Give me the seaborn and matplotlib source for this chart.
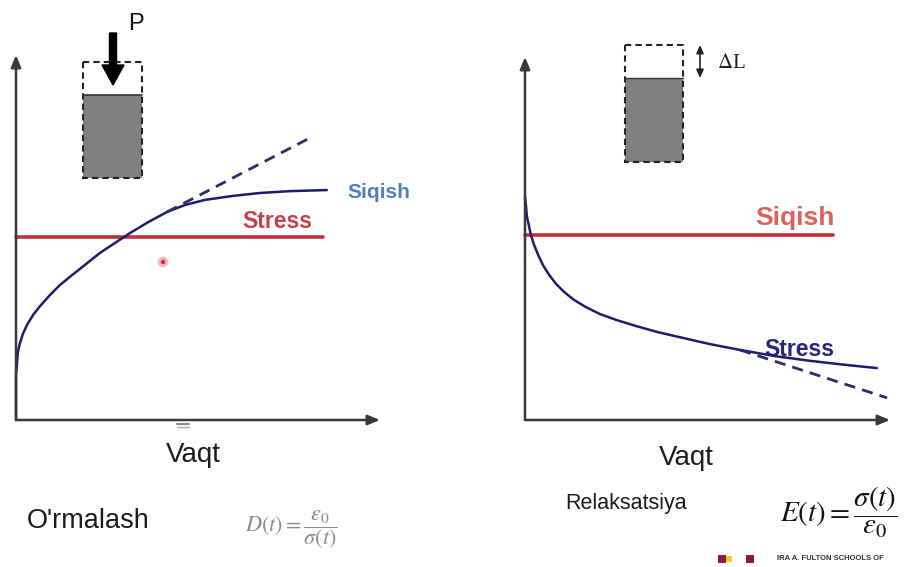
import seaborn as sns
import matplotlib.pyplot as plt
from matplotlib.patches import Rectangle, FancyArrow

# creep panel (O'rmalash): strain at constant stress
creep_t = [0, 0, 0, 0.03, 0.05, 0.11, 0.19, 0.30, 0.47, 0.66, 0.93, 1.21, 1.54, 1.92,
           2.31, 2.72, 3.13, 3.63, 4.15, 4.64, 5.19, 5.96, 6.70, 7.53, 8.54]
creep_strain = [0, 0.68, 1.23, 1.59, 1.86, 2.11, 2.36, 2.60, 2.88, 3.12, 3.42, 3.70, 3.97, 4.27,
                4.58, 4.85, 5.12, 5.42, 5.70, 5.89, 6.03, 6.14, 6.22, 6.27, 6.30]
creep_lin_t = [4.15, 8.08]
creep_lin = [5.70, 7.73]
creep_stress_t = [0, 8.43]
creep_stress = [5.01, 5.01]

# relaxation panel (Relaksatsiya): stress at constant strain
relax_t = [0, 0.03, 0.05, 0.11, 0.16, 0.25, 0.36, 0.49, 0.66, 0.85, 1.07, 1.34, 1.67, 2.05,
           2.52, 3.04, 3.64, 4.33, 5.07, 5.89, 6.85, 7.81, 8.77, 9.64]
relax_stress = [6.14, 5.87, 5.62, 5.34, 5.10, 4.82, 4.55, 4.27, 4.00, 3.75, 3.53, 3.31, 3.11, 2.92,
                2.75, 2.59, 2.42, 2.26, 2.09, 1.93, 1.76, 1.63, 1.52, 1.43]
relax_lin_t = [5.89, 9.92]
relax_lin = [1.93, 0.61]
relax_strain_t = [0, 8.44]
relax_strain = [5.10, 5.10]

sns.set_theme(style='white')
plt.rcParams['font.family'] = ['Liberation Sans', 'DejaVu Sans']
plt.rcParams['mathtext.fontset'] = 'stix'

W, H = 909, 567
fig = plt.figure(figsize=(W / 100, H / 100), dpi=100)
fig.patch.set_facecolor('white')

# background axis in pixel units for the sketches and captions
bg = fig.add_axes([0, 0, 1, 1])
bg.set_xlim(0, W)
bg.set_ylim(H, 0)
bg.axis('off')

AX_COL = '#3a3a3a'


def make_panel(left, top, right, bottom):
    ax = fig.add_axes([left / W, (H - bottom) / H, (right - left) / W, (bottom - top) / H])
    ax.set_xlim(0, 10)
    ax.set_ylim(0, 10)
    ax.patch.set_alpha(0)
    for s in ax.spines.values():
        s.set_visible(False)
    ax.set_xticks([])
    ax.set_yticks([])
    ax.set_xlabel('')
    ax.set_ylabel('')
    arrow = dict(arrowstyle='-|>,head_width=0.25,head_length=0.6', color=AX_COL, lw=1.8,
                 shrinkA=0, shrinkB=0)
    ax.annotate('', xy=(0, 1), xytext=(0, 0), xycoords='axes fraction', arrowprops=arrow)
    ax.annotate('', xy=(1, 0), xytext=(0, 0), xycoords='axes fraction', arrowprops=arrow)
    return ax


def dashed(ax):
    ax.lines[-1].set_dashes((4, 2.6))


# ---- left: creep ----
ax1 = make_panel(16, 55, 380, 420)
sns.lineplot(x=creep_stress_t, y=creep_stress, ax=ax1, color='#c0303a', lw=2.6,
             estimator=None, sort=False)
sns.lineplot(x=creep_t, y=creep_strain, ax=ax1, color='#1f1c6e', lw=1.8,
             estimator=None, sort=False)
sns.lineplot(x=creep_lin_t, y=creep_lin, ax=ax1, color='#2a2d6a', lw=2.0,
             estimator=None, sort=False)
dashed(ax1)
for ln in ax1.lines:
    ln.set_clip_on(False)
    ln.set_solid_joinstyle('round')

# ---- right: relaxation ----
ax2 = make_panel(525, 57, 890, 420)
sns.lineplot(x=relax_strain_t, y=relax_strain, ax=ax2, color='#c0303a', lw=2.6,
             estimator=None, sort=False)
sns.lineplot(x=relax_t, y=relax_stress, ax=ax2, color='#1f1c6e', lw=1.8,
             estimator=None, sort=False)
sns.lineplot(x=relax_lin_t, y=relax_lin, ax=ax2, color='#2a2d6a', lw=2.0,
             estimator=None, sort=False)
dashed(ax2)
for ln in ax2.lines:
    ln.set_clip_on(False)
    ln.set_solid_joinstyle('round')

# ---- specimen sketches ----
# left: loaded specimen with force P
bg.add_patch(Rectangle((83, 95), 59, 83, facecolor='#7f7f7f', edgecolor='none'))
bg.add_patch(Rectangle((83, 62), 59, 116, facecolor='none', edgecolor='#222222',
                       lw=1.5, ls=(0, (3, 2))))
bg.plot([83, 142], [95, 95], color='#333333', lw=1.2)
bg.add_patch(FancyArrow(113, 33, 0, 52, width=7, head_width=22, head_length=20,
                        length_includes_head=True, color='black'))
bg.text(136, 24, 'P', fontsize=17, ha='center', va='center', color='#111111')

# right: specimen with fixed deformation
bg.add_patch(Rectangle((625, 78), 58, 84, facecolor='#7f7f7f', edgecolor='none'))
bg.add_patch(Rectangle((625, 45), 58, 117, facecolor='none', edgecolor='#222222',
                       lw=1.5, ls=(0, (3, 2))))
bg.plot([625, 683], [78, 78], color='#333333', lw=1.0)
bg.annotate('', xy=(700, 45), xytext=(700, 78),
            arrowprops=dict(arrowstyle='<|-|>,head_width=0.18,head_length=0.4',
                            color='#222222', lw=1.2, shrinkA=0, shrinkB=0))
bg.text(731, 64, r'$\Delta$L', fontsize=15, ha='center', va='center', color='#222222',
        family='Liberation Serif')

# ---- curve labels ----
bg.text(277, 222, 'Stress', fontsize=16.5, fontweight='bold', color='#c4424a',
        ha='center', va='center')
bg.text(379, 193, 'Siqish', fontsize=15, fontweight='bold', color='#4f7fbd',
        ha='center', va='center')
bg.text(795, 218, 'Siqish', fontsize=19, fontweight='bold', color='#d8625c',
        ha='center', va='center')
bg.text(799, 350, 'Stress', fontsize=16.5, fontweight='bold', color='#27277c',
        ha='center', va='center')

# small marks from the original slide
bg.scatter([163], [262], s=60, color='#f6b8c0', edgecolor='none', zorder=3)
bg.scatter([163], [262], s=10, color='#c0303a', edgecolor='none', zorder=4)
bg.plot([177, 189], [424, 424], color='#888888', lw=1.5)
bg.plot([177, 189], [427, 427], color='#aaaaaa', lw=1.0)

# ---- captions ----
bg.text(193, 455, 'Vaqt', fontsize=20, ha='center', va='center', color='#1c1c1c')
bg.text(686, 458, 'Vaqt', fontsize=20, ha='center', va='center', color='#1c1c1c')
bg.text(27, 521, "O'rmalash", fontsize=19.5, ha='left', va='center', color='#1c1c1c')
bg.text(565, 503, 'Relaksatsiya', fontsize=15.5, ha='left', va='center', color='#1c1c1c')

bg.text(245, 530, r'$D(t)=\dfrac{\varepsilon_0}{\sigma(t)}$', fontsize=16,
        ha='left', va='center', color='#8a8a8a')
bg.text(780, 512, r'$E(t)=\dfrac{\sigma(t)}{\varepsilon_0}$', fontsize=21,
        ha='left', va='center', color='#111111')

# logo strip bottom right
bg.scatter([722], [559], s=40, marker='s', color='#8c1d40', edgecolor='none')
bg.scatter([729], [559], s=20, marker='s', color='#ffc627', edgecolor='none')
bg.scatter([750], [559], s=30, marker='s', color='#8c1d40', edgecolor='none')
bg.text(777, 559, 'IRA A. FULTON SCHOOLS OF', fontsize=5.5, fontweight='bold',
        ha='left', va='center', color='#333333')

fig.savefig('out.png', dpi=100, facecolor='white')
